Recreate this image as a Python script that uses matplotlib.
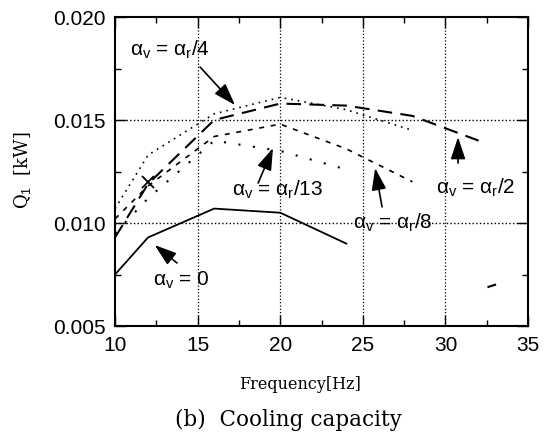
import matplotlib
matplotlib.use("Agg")
import matplotlib.pyplot as plt
from matplotlib.ticker import MultipleLocator, FormatStrFormatter

# Cooling capacity curves
freq_0 = [10, 12, 16, 20, 24]
q_0 = [0.0075, 0.0093, 0.0107, 0.0105, 0.0090]

freq_r2 = [10, 12, 16, 20, 24, 28, 32]
q_r2 = [0.0093, 0.0119, 0.0150, 0.0158, 0.0157, 0.0152, 0.0140]

freq_r4 = [10, 12, 16, 20, 24, 28]
q_r4 = [0.0107, 0.0133, 0.0153, 0.0161, 0.0155, 0.0145]

freq_r8 = [10, 12, 16, 20, 24, 28]
q_r8 = [0.0102, 0.0118, 0.0142, 0.0148, 0.0136, 0.0120]

freq_r13 = [10, 12, 16, 20, 24]
q_r13 = [0.0095, 0.0112, 0.0140, 0.0135, 0.0126]

# cross marker and the stray dash in the scan
cross_f, cross_q = 12, 0.0120
stray_f = [32.6, 33.0]
stray_q = [0.0069, 0.0070]

# labels: text, text position, arrow tail, arrow head
labels = [r'$\alpha_{\rm v}$ = $\alpha_{\rm r}$/4', r'$\alpha_{\rm v}$ = $\alpha_{\rm r}$/13',
          r'$\alpha_{\rm v}$ = $\alpha_{\rm r}$/8', r'$\alpha_{\rm v}$ = $\alpha_{\rm r}$/2',
          r'$\alpha_{\rm v}$ = 0']
label_pos = [(10.9, 0.0184), (17.1, 0.0116), (24.4, 0.0100), (29.4, 0.0117), (12.3, 0.0072)]
arrow_tail = [(15.15, 0.01757), (18.66, 0.01194), (26.16, 0.01078), (30.76, 0.01291), (13.75, 0.00806)]
arrow_head = [(17.26, 0.01573), (19.56, 0.01364), (25.74, 0.01267), (30.76, 0.01417), (12.4, 0.00893)]

plt.rcParams['mathtext.fontset'] = 'custom'
plt.rcParams['mathtext.rm'] = 'Liberation Sans'
plt.rcParams['mathtext.it'] = 'Liberation Sans'
plt.rcParams['font.family'] = 'Liberation Sans'

fig = plt.figure(figsize=(5.53, 4.37), dpi=100)
ax = fig.add_axes([0.208, 0.254, 0.747, 0.707])

ax.plot(freq_0, q_0, color='black', lw=1.3)
ax.plot(freq_r2, q_r2, color='black', lw=1.5, dashes=(7, 4))
ax.plot(freq_r4, q_r4, color='black', lw=1.2, dashes=(1, 3))
ax.plot(freq_r8, q_r8, color='black', lw=1.2, dashes=(3, 4))
ax.plot(freq_r13, q_r13, color='black', lw=1.5, dashes=(1, 6))
ax.plot(cross_f, cross_q, marker='x', color='black', ms=9, mew=1.3)
ax.plot(stray_f, stray_q, color='black', lw=1.5)

ax.set_xlim(10, 35)
ax.set_ylim(0.005, 0.020)
ax.xaxis.set_major_locator(MultipleLocator(5))
ax.xaxis.set_minor_locator(MultipleLocator(2.5))
ax.yaxis.set_major_locator(MultipleLocator(0.005))
ax.yaxis.set_minor_locator(MultipleLocator(0.0025))
ax.yaxis.set_major_formatter(FormatStrFormatter('%.3f'))
ax.tick_params(which='both', direction='in', top=True, right=True,
               labelsize=15, pad=7)
ax.tick_params(which='major', length=8, width=1)
ax.tick_params(which='minor', length=4, width=1)
for s in ax.spines.values():
    s.set_linewidth(1.5)

# dotted grid only at inner major ticks
for f in [15, 20, 25, 30]:
    ax.axvline(f, color='black', lw=0.9, ls=':')
for q in [0.010, 0.015]:
    ax.axhline(q, color='black', lw=1.0, ls=':')

for txt, pos, tail, head in zip(labels, label_pos, arrow_tail, arrow_head):
    ax.text(pos[0], pos[1], txt, fontsize=15, ha='left', va='center')
    ax.annotate('', xy=head, xytext=tail,
                arrowprops=dict(arrowstyle='-|>,head_length=0.9,head_width=0.3',
                                color='black', lw=1.2, mutation_scale=15,
                                shrinkA=0, shrinkB=0))

fig.text(0.04, 0.61, r'Q$_1$  [kW]', rotation=90, ha='center', va='center',
         fontsize=13, family='DejaVu Serif')
fig.text(0.543, 0.119, 'Frequency[Hz]', ha='center', va='center',
         fontsize=11.5, family='DejaVu Serif')
fig.text(0.521, 0.039, '(b)  Cooling capacity', ha='center', va='center',
         fontsize=15.5, family='DejaVu Serif')

fig.savefig('out.png', dpi=100)
